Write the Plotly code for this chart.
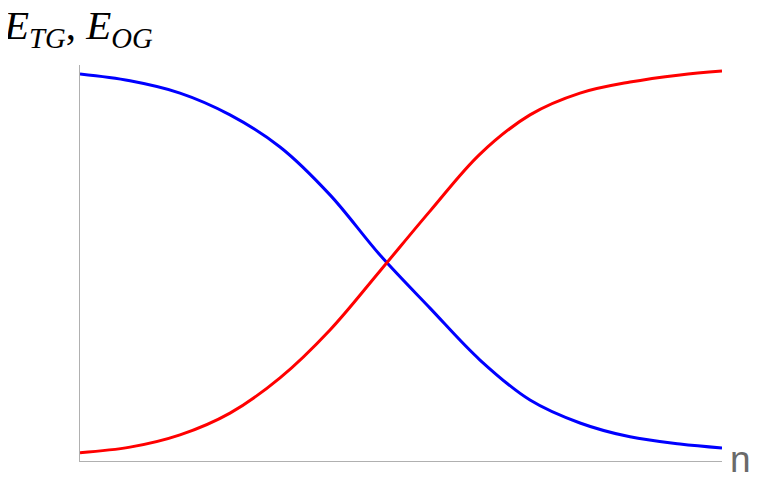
import plotly.graph_objects as go

# n in arbitrary units (no ticks on the axis)
n = [0, 0.5, 1.0, 1.5, 2.0, 2.5, 3.0, 3.5, 4.0, 4.5, 5.0, 5.5, 6.0, 6.42]
e_tg = [0.977, 0.960, 0.929, 0.874, 0.793, 0.672, 0.520,
        0.386, 0.255, 0.154, 0.096, 0.061, 0.043, 0.033]
e_og = [0.021, 0.035, 0.066, 0.121, 0.210, 0.331, 0.480,
        0.631, 0.775, 0.874, 0.929, 0.957, 0.975, 0.985]

fig = go.Figure()
fig.add_trace(go.Scatter(x=n, y=e_tg, mode='lines',
                         line=dict(color='#0000ff', width=3, shape='spline', smoothing=1)))
fig.add_trace(go.Scatter(x=n, y=e_og, mode='lines',
                         line=dict(color='#ff0000', width=3, shape='spline', smoothing=1)))

axis_style = dict(showline=True, linecolor='#b0b0b0', linewidth=1,
                  showgrid=False, zeroline=False, showticklabels=False,
                  ticks='', mirror=False)
fig.update_xaxes(range=[0, 6.42], **axis_style)
fig.update_yaxes(range=[0, 1], **axis_style)

fig.add_annotation(text='<i>E</i><sub><i>TG</i></sub>, <i>E</i><sub><i>OG</i></sub>',
                   xref='paper', yref='paper', x=-0.123, y=1.165,
                   xanchor='left', yanchor='top', showarrow=False,
                   font=dict(family='Liberation Serif', size=41, color='black'))
fig.add_annotation(text='n', xref='paper', yref='paper', x=1.0285, y=0.005,
                   xanchor='center', yanchor='middle', showarrow=False,
                   font=dict(family='Liberation Sans', size=37, color='#6a6a6a'))

# page body has an 8px margin, so the figure sits 8px in from the corner
fig.update_layout(width=754, height=466, showlegend=False,
                  plot_bgcolor='white', paper_bgcolor='white',
                  margin=dict(l=72, r=40, t=57, b=13, autoexpand=False))

fig.write_html("out.html")
